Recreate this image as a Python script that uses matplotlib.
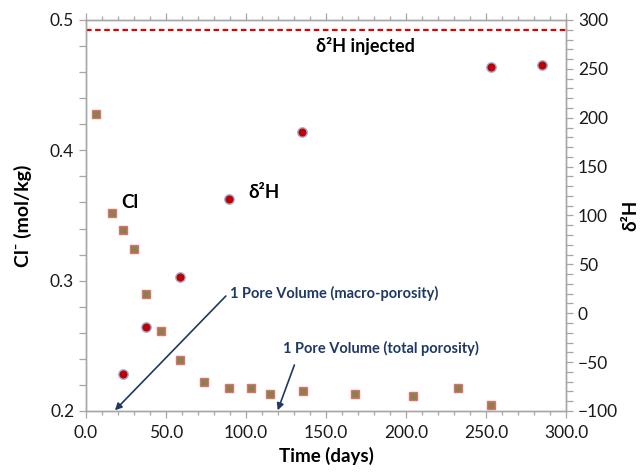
import matplotlib
matplotlib.use("Agg")
import matplotlib.pyplot as plt
from matplotlib.ticker import MultipleLocator, FormatStrFormatter

plt.rcParams['font.family'] = ['Lato', 'DejaVu Sans']

# chloride (left axis)
cl_days = [6.1, 16.4, 23.1, 30.2, 37.7, 46.7, 58.8, 73.8, 89.2, 103.3,
           115.0, 135.4, 168.1, 204.6, 232.7, 253.1]
cl_conc = [0.428, 0.352, 0.339, 0.324, 0.2895, 0.261, 0.239, 0.222, 0.218,
           0.218, 0.213, 0.2155, 0.213, 0.2117, 0.218, 0.2046]

# deuterium (right axis)
h2_days = [23.1, 37.7, 58.8, 89.2, 135.2, 253.1, 285.2]
h2_vals = [-62, -14, 37, 117, 185, 252, 254]

h2_injected = 290

navy = '#1F3864'
grey = '#A6A6A6'

fig = plt.figure(figsize=(6.44, 4.76), dpi=100)
ax = fig.add_axes([0.1335, 0.1366, 0.7455, 0.8214])
ax2 = ax.twinx()

ax.plot(cl_days, cl_conc, 's', ms=6.3, mfc='#8B8050', mec='#E0706A', mew=1.0, zorder=3)
ax2.plot(h2_days, h2_vals, 'o', ms=6.8, mfc='#C00000', mec='#9DB3DD', mew=1.0, zorder=3)
ax2.plot([0, 300], [h2_injected, h2_injected], '--', color='#E00000', lw=1.6, dashes=(2.5, 1.6))

ax.set_xlim(0, 300)
ax.set_ylim(0.2, 0.5)
ax2.set_ylim(-100, 300)

ax.xaxis.set_major_locator(MultipleLocator(50))
ax.xaxis.set_minor_locator(MultipleLocator(10))
ax.xaxis.set_major_formatter(FormatStrFormatter('%.1f'))
ax.yaxis.set_major_locator(MultipleLocator(0.1))
ax.yaxis.set_minor_locator(MultipleLocator(0.02))
ax.yaxis.set_major_formatter(FormatStrFormatter('%.1f'))
ax2.yaxis.set_major_locator(MultipleLocator(50))
ax2.yaxis.set_minor_locator(MultipleLocator(10))

for a in (ax, ax2):
    for s in a.spines.values():
        s.set_color(grey)
        s.set_linewidth(1.0)
    a.tick_params(which='both', direction='out', color=grey, length=5, width=0.9,
                  labelsize=12.5, labelcolor='#1a1a1a')
ax.tick_params(axis='x', which='both', top=True)
ax.tick_params(axis='x', which='both', pad=5)
ax.tick_params(axis='x', which='minor', top=True, length=3)

ax.set_xlabel('Time (days)', fontsize=13.5, fontweight='bold', labelpad=4)
ax.set_ylabel('Cl⁻ (mol/kg)', fontsize=14, fontweight='bold', labelpad=13)
ax2.set_ylabel('δ²H', fontsize=13.5, fontweight='bold', rotation=90, labelpad=3)

ax.text(22.3, 0.360, 'Cl', fontsize=13.5, fontweight='bold', va='center')
ax.text(101.5, 0.368, 'δ²H', fontsize=13.5, fontweight='bold', va='center')
ax.text(143.5, 0.480, 'δ²H injected', fontsize=13, fontweight='bold', va='center')

ax.annotate('1 Pore Volume (macro-porosity)', xy=(18.1, 0.2005), xytext=(90, 0.2905),
            fontsize=10.5, fontweight='bold', color=navy, va='center',
            arrowprops=dict(arrowstyle='-|>', color=navy, lw=1.2, mutation_scale=10,
                            shrinkA=0, shrinkB=0, relpos=(-0.02, 0.3)))
ax.annotate('1 Pore Volume (total porosity)', xy=(119.8, 0.2005), xytext=(122.9, 0.248),
            fontsize=10.5, fontweight='bold', color=navy, va='center',
            arrowprops=dict(arrowstyle='-|>', color=navy, lw=1.2, mutation_scale=10,
                            shrinkA=0, shrinkB=0, relpos=(0.06, -0.6)))

fig.savefig('out.png', dpi=100)
